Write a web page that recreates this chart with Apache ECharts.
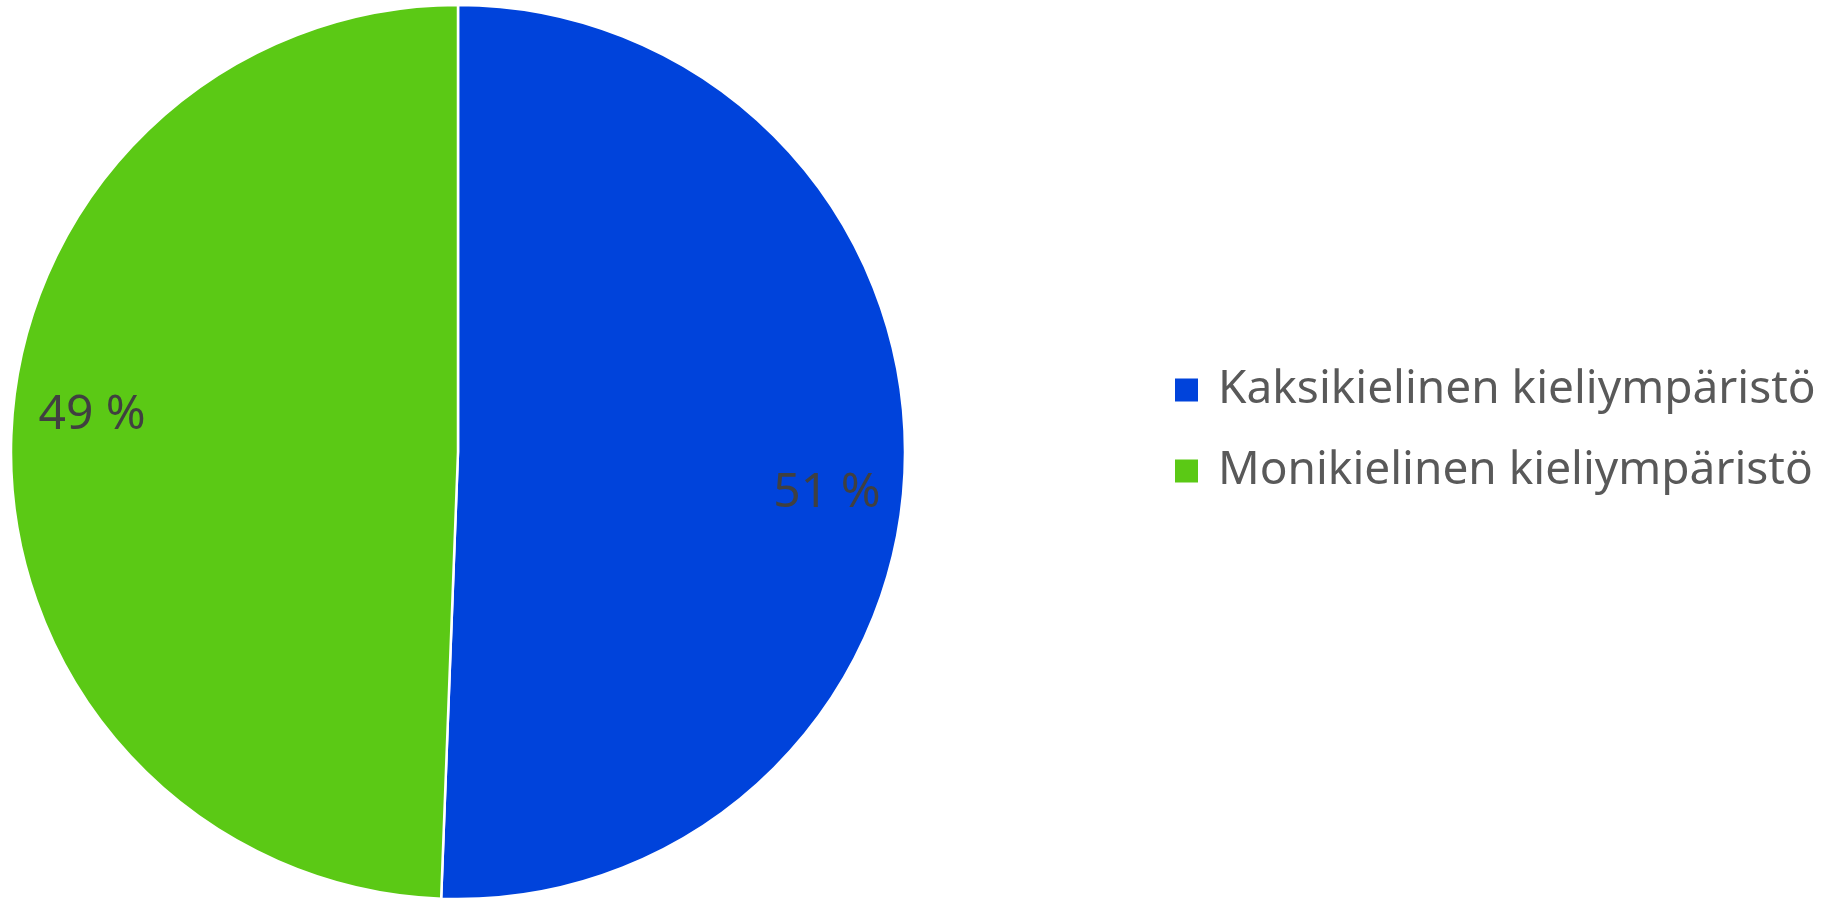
<!DOCTYPE html>
<html>
<head>
<meta charset="utf-8">
<script src="https://cdn.jsdelivr.net/npm/echarts@6/dist/echarts.min.js"></script>
<style>
html,body{margin:0;padding:0;background:#fff;}
#chart{width:1836px;height:898px;}
</style>
</head>
<body>
<div id="chart"></div>
<script>
const categories = ['Kaksikielinen kieliympäristö', 'Monikielinen kieliympäristö'];
const values = [50.6, 49.4];
const colors = ['#0043DB', '#5BC915'];

const pieData = categories.map((name, i) => ({
  name: name,
  value: values[i],
  itemStyle: { color: colors[i] }
}));

const chart = echarts.init(document.getElementById('chart'), null, { renderer: 'canvas' });
const labelShift = [[-5, 34], [8, -30]];

chart.setOption({
  backgroundColor: '#ffffff',
  animation: false,
  legend: {
    orient: 'vertical',
    left: 1168,
    top: 362,
    itemWidth: 25,
    itemHeight: 25,
    itemGap: 35,
    icon: 'rect',
    data: categories,
    selectedMode: false,
    textStyle: {
      fontFamily: 'Noto Sans',
      fontSize: 46,
      lineHeight: 46,
      color: '#595959',
      padding: [0, 0, 0, 14]
    }
  },
  series: [
    {
      type: 'pie',
      center: [458, 452],
      radius: 447,
      startAngle: 90,
      clockwise: true,
      data: pieData,
      label: { show: false },
      labelLine: { show: false },
      itemStyle: { borderColor: '#ffffff', borderWidth: 2.5 },
      emphasis: { disabled: true }
    },
    {
      type: 'pie',
      center: [458, 452],
      radius: [295, 447],
      startAngle: 90,
      clockwise: true,
      silent: true,
      data: categories.map((name, i) => ({ name: name, value: values[i] })),
      itemStyle: { color: 'rgba(0,0,0,0)', borderWidth: 0 },
      label: {
        show: true,
        position: 'inside',
        fontFamily: 'Noto Sans',
        fontSize: 48,
        color: '#404040',
        formatter: p => Math.round(p.percent) + ' %'
      },
      labelLayout: p => ({ dx: labelShift[p.dataIndex][0], dy: labelShift[p.dataIndex][1] }),
      labelLine: { show: false },
      emphasis: { disabled: true }
    }
  ]
});
</script>
</body>
</html>
